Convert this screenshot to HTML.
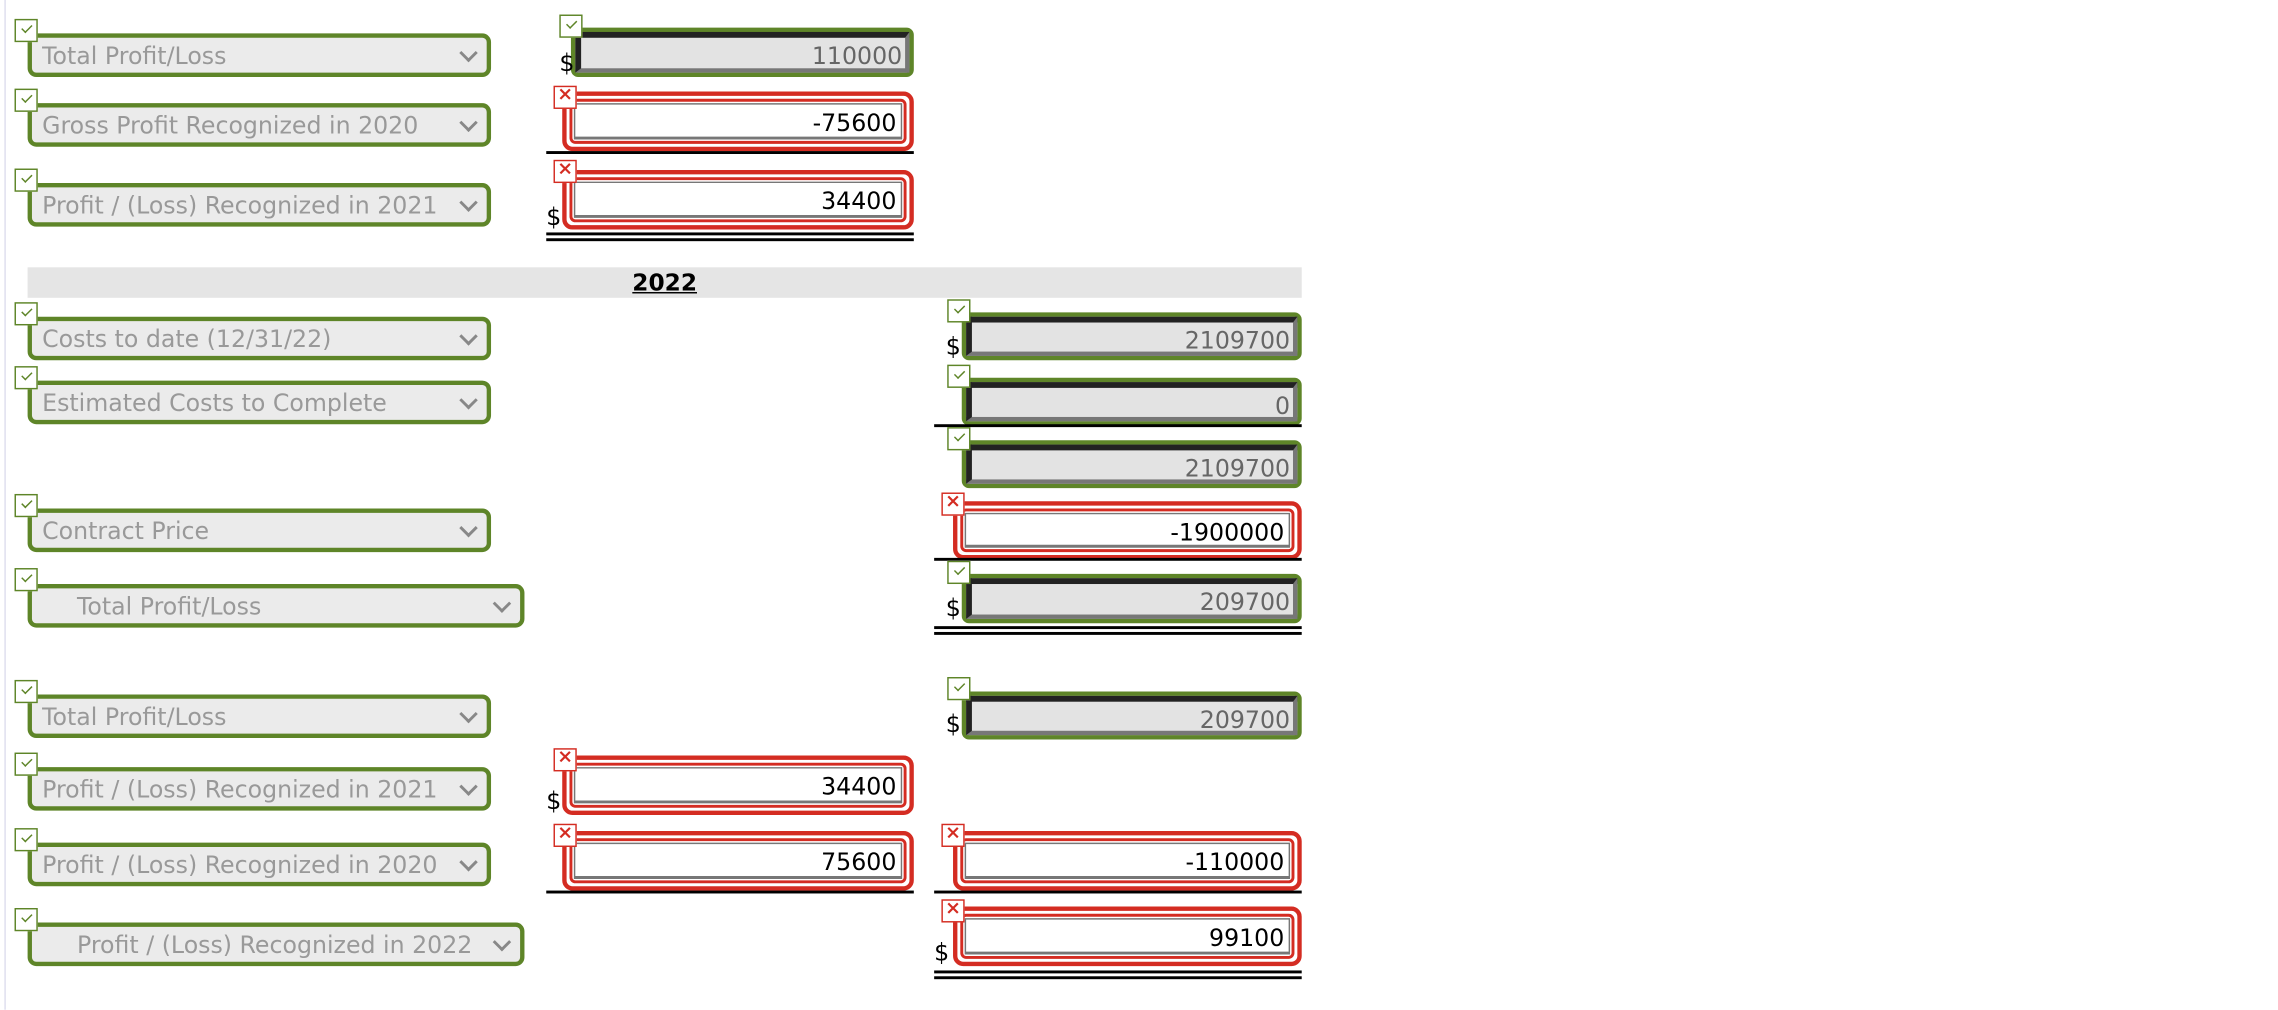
<!DOCTYPE html>
<html><head><meta charset="utf-8"><style>
html,body{margin:0;padding:0;background:#fff;width:2278px;height:1010px;overflow:hidden}
#w{position:absolute;left:0;top:0;width:1568px;height:695px;transform:scale(1.4528);transform-origin:0 0;font-family:"DejaVu Sans","Liberation Sans",sans-serif}
#w div,#w span{position:absolute;box-sizing:border-box}
.sel{height:30px;border:3px solid #5e8528;border-radius:6px;background:#ebebeb;color:#999;font-size:16.3px;line-height:25px;padding-left:7px;white-space:nowrap;overflow:hidden}
.sel:after{content:"";position:absolute;right:8px;top:6px;width:7px;height:7px;border-right:2px solid #888;border-bottom:2px solid #888;transform:rotate(45deg)}
.ck{width:16px;height:16px;border:1.5px solid #5e8528;background:#fff;z-index:2}
.ck:after{content:"";position:absolute;left:4px;top:3px;width:6px;height:3px;border-left:1.5px solid #5e8528;border-bottom:1.5px solid #5e8528;transform:rotate(-45deg)}
.x{width:16px;height:16px;border:1.5px solid #d42c22;background:#fff;z-index:2;color:#d42c22;font-weight:bold;font-size:13px;line-height:12px;text-align:center}
.g{border:3px solid #5e8528;border-radius:5px;background:#e3e3e3}
.g>i{position:absolute;left:0;top:0;right:0;bottom:0;border-top:4px solid #222;border-left:4px solid #222;border-bottom:3px solid #777;border-right:3px solid #777;font-style:normal;color:#666;font-size:16.3px;text-align:right;padding-right:2px;line-height:25px}
.r{border:3px solid #d42c22;border-radius:7px;background:#fff}
.r>b{position:absolute;left:2px;top:2px;right:2px;bottom:2px;border:2.5px solid #d42c22;border-radius:4px}
.r>i{position:absolute;left:5px;top:5px;right:5px;bottom:5px;border:1.5px solid #777;border-bottom:2.5px solid #777;font-style:normal;color:#000;font-size:16.3px;text-align:right;padding-right:3px;line-height:26px;background:#fff}
.d{font-size:16.3px;color:#000}
.ln{height:2px;background:#000}
</style></head><body><div id="w">
<div style="left:3px;top:0;width:1px;height:695px;background:#dde"></div>

<div class="sel" style="left:19px;top:23px;width:319px">Total Profit/Loss</div><div class="ck" style="left:10px;top:13px"></div>
<div class="sel" style="left:19px;top:71px;width:319px">Gross Profit Recognized in 2020</div><div class="ck" style="left:10px;top:61px"></div>
<div class="sel" style="left:19px;top:126px;width:319px">Profit / (Loss) Recognized in 2021</div><div class="ck" style="left:10px;top:116px"></div>

<div class="g" style="left:393px;top:19px;width:236px;height:34px"><i>110000</i></div><div class="ck" style="left:385px;top:10px"></div><span class="d" style="left:385px;top:34px">$</span>
<div class="r" style="left:387px;top:63px;width:242px;height:41px"><b></b><i>-75600</i></div><div class="x" style="left:381px;top:59px">×</div>
<div class="ln" style="left:376px;top:104px;width:253px"></div>
<div class="r" style="left:387px;top:117px;width:242px;height:41px"><b></b><i>34400</i></div><div class="x" style="left:381px;top:110px">×</div><span class="d" style="left:376px;top:140px">$</span>
<div class="ln" style="left:376px;top:160px;width:253px"></div><div class="ln" style="left:376px;top:164px;width:253px"></div>

<div style="left:19px;top:184px;width:877px;height:21px;background:#e5e5e5;text-align:center;font-weight:bold;font-size:16px;line-height:21px"><span style="position:static;text-decoration:underline">2022</span></div>

<div class="sel" style="left:19px;top:218px;width:319px">Costs to date (12/31/22)</div><div class="ck" style="left:10px;top:208px"></div>
<div class="sel" style="left:19px;top:262px;width:319px">Estimated Costs to Complete</div><div class="ck" style="left:10px;top:252px"></div>
<div class="sel" style="left:19px;top:350px;width:319px">Contract Price</div><div class="ck" style="left:10px;top:340px"></div>
<div class="sel" style="left:19px;top:402px;width:342px;padding-left:31px">Total Profit/Loss</div><div class="ck" style="left:10px;top:391px"></div>

<div class="g" style="left:662px;top:215px;width:234px;height:33px"><i>2109700</i></div><div class="ck" style="left:652px;top:206px"></div><span class="d" style="left:651px;top:229px">$</span>
<div class="g" style="left:662px;top:260px;width:234px;height:33px"><i>0</i></div><div class="ck" style="left:652px;top:251px"></div>
<div class="ln" style="left:643px;top:292px;width:253px"></div>
<div class="g" style="left:662px;top:303px;width:234px;height:33px"><i>2109700</i></div><div class="ck" style="left:652px;top:294px"></div>
<div class="r" style="left:656px;top:345px;width:240px;height:40px"><b></b><i>-1900000</i></div><div class="x" style="left:648px;top:339px">×</div>
<div class="ln" style="left:643px;top:384px;width:253px"></div>
<div class="g" style="left:662px;top:395px;width:234px;height:34px"><i>209700</i></div><div class="ck" style="left:652px;top:386px"></div><span class="d" style="left:651px;top:409px">$</span>
<div class="ln" style="left:643px;top:431px;width:253px"></div><div class="ln" style="left:643px;top:435px;width:253px"></div>

<div class="sel" style="left:19px;top:478px;width:319px">Total Profit/Loss</div><div class="ck" style="left:10px;top:468px"></div>
<div class="sel" style="left:19px;top:528px;width:319px">Profit / (Loss) Recognized in 2021</div><div class="ck" style="left:10px;top:518px"></div>
<div class="sel" style="left:19px;top:580px;width:319px">Profit / (Loss) Recognized in 2020</div><div class="ck" style="left:10px;top:570px"></div>
<div class="sel" style="left:19px;top:635px;width:342px;padding-left:31px">Profit / (Loss) Recognized in 2022</div><div class="ck" style="left:10px;top:625px"></div>

<div class="g" style="left:662px;top:476px;width:234px;height:33px"><i>209700</i></div><div class="ck" style="left:652px;top:466px"></div><span class="d" style="left:651px;top:489px">$</span>
<div class="r" style="left:387px;top:520px;width:242px;height:41px"><b></b><i>34400</i></div><div class="x" style="left:381px;top:515px">×</div><span class="d" style="left:376px;top:542px">$</span>
<div class="r" style="left:387px;top:572px;width:242px;height:41px"><b></b><i>75600</i></div><div class="x" style="left:381px;top:567px">×</div>
<div class="ln" style="left:376px;top:613px;width:253px"></div>
<div class="r" style="left:656px;top:572px;width:240px;height:41px"><b></b><i>-110000</i></div><div class="x" style="left:648px;top:567px">×</div>
<div class="ln" style="left:643px;top:613px;width:253px"></div>
<div class="r" style="left:656px;top:624px;width:240px;height:41px"><b></b><i>99100</i></div><div class="x" style="left:648px;top:619px">×</div><span class="d" style="left:643px;top:646px">$</span>
<div class="ln" style="left:643px;top:668px;width:253px"></div><div class="ln" style="left:643px;top:672px;width:253px"></div>
</div></body></html>
